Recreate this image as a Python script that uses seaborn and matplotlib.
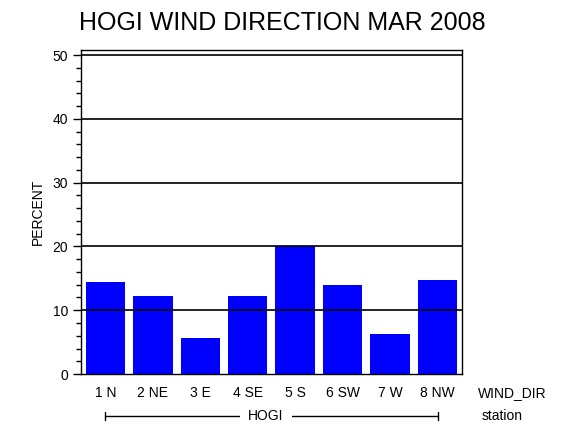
import matplotlib
matplotlib.use('Agg')
import matplotlib.pyplot as plt
import matplotlib.transforms as mtransforms
from matplotlib.ticker import MultipleLocator
import pandas as pd
import seaborn as sns

# data
directions = ['1 N', '2 NE', '3 E', '4 SE', '5 S', '6 SW', '7 W', '8 NW']
percent = [14.5, 12.3, 5.6, 12.3, 20.0, 14.0, 6.2, 14.8]
station = 'HOGI'

df = pd.DataFrame({'WIND_DIR': directions, 'PERCENT': percent})

sns.set_style('white')
plt.rcParams['font.family'] = ['Liberation Sans', 'DejaVu Sans']
plt.rcParams['text.color'] = 'black'
plt.rcParams['axes.labelcolor'] = 'black'
plt.rcParams['xtick.color'] = 'black'
plt.rcParams['ytick.color'] = 'black'

fig = plt.figure(figsize=(5.7, 4.3), dpi=100)
ax = fig.add_axes([0.1416, 0.1302, 0.6684, 0.7535])

sns.barplot(data=df, x='WIND_DIR', y='PERCENT', color='#0000ff',
            saturation=1, width=0.83, edgecolor='none', linewidth=0, ax=ax)

ax.set_xlim(-0.52, 7.51)
ax.set_ylim(0, 50.8)
ax.yaxis.set_major_locator(MultipleLocator(10))
ax.yaxis.set_minor_locator(MultipleLocator(2))
# reference lines sit on top of the bars
for y in range(10, 51, 10):
    ax.axhline(y, color='black', lw=1.2, zorder=3)

for s in ax.spines.values():
    s.set_color('black')
    s.set_linewidth(1.0)
    s.set_zorder(4)

ax.tick_params(axis='y', which='major', left=True, length=6, width=1,
               direction='out', labelsize=10, pad=3)
ax.tick_params(axis='y', which='minor', left=True, length=3.5, width=1,
               direction='out')
ax.tick_params(axis='x', bottom=False, labelsize=10, pad=5)

ax.set_xlabel('')
ax.set_ylabel('PERCENT', fontsize=10)
ax.yaxis.set_label_coords(-0.095, 0.5)

ax.set_title('HOGI WIND DIRECTION MAR 2008', fontsize=18, x=0.53, y=1.035)

# right-hand axis captions
ax.text(1.043, -0.058, 'WIND_DIR', transform=ax.transAxes, fontsize=10,
        ha='left', va='center')
ax.text(1.052, -0.13, 'station', transform=ax.transAxes, fontsize=10,
        ha='left', va='center')

# station bracket under the categories
trans = mtransforms.blended_transform_factory(ax.transData, ax.transAxes)
ax.plot([0, 7], [-0.13, -0.13], color='black', lw=1, transform=trans,
        clip_on=False)
ax.plot([0, 0], [-0.118, -0.142], color='black', lw=1, transform=trans,
        clip_on=False)
ax.plot([7, 7], [-0.118, -0.142], color='black', lw=1, transform=trans,
        clip_on=False)
ax.text(3.38, -0.13, station, transform=trans, fontsize=10, ha='center',
        va='center', bbox=dict(facecolor='white', edgecolor='none', pad=6))

fig.savefig('out.png', dpi=100)
